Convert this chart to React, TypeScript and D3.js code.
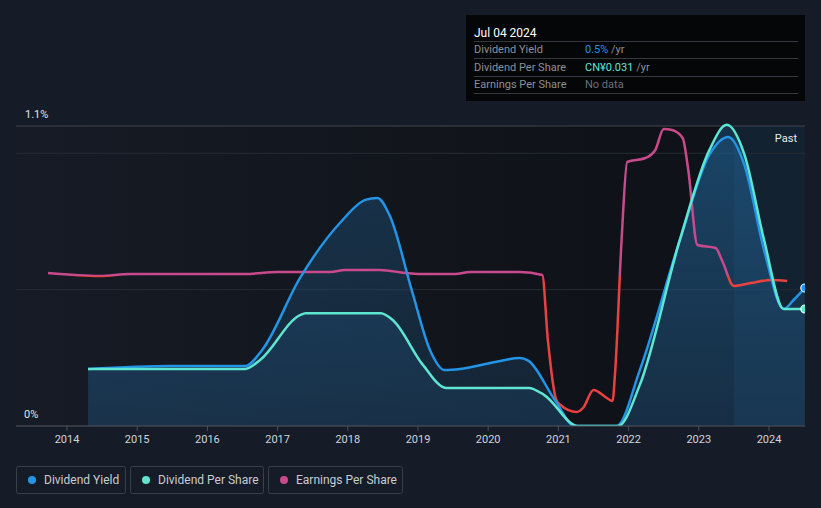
import React from "react";
import * as d3 from "d3";

const W = 821;
const H = 508;

const yieldYears = [2014.3, 2015.47, 2016.54, 2016.78, 2017.32, 2017.9, 2018.25, 2018.42, 2018.6, 2018.91, 2019.17, 2019.38, 2019.6, 2020.03, 2020.45, 2020.57, 2020.95, 2021.23, 2021.83, 2022.16, 2022.73, 2023.15, 2023.42, 2023.65, 2023.93, 2024.21, 2024.35, 2024.51];
const yieldValues = [0.209, 0.22, 0.22, 0.279, 0.543, 0.748, 0.829, 0.836, 0.77, 0.499, 0.279, 0.205, 0.209, 0.231, 0.249, 0.24, 0.095, 0, 0, 0.205, 0.682, 0.994, 1.06, 0.957, 0.645, 0.429, 0.462, 0.506];

const dpsYears = [2014.3, 2016.54, 2016.75, 2017.32, 2017.4, 2018.47, 2018.64, 2019.07, 2019.4, 2020.58, 2020.8, 2021.28, 2021.85, 2022.16, 2022.73, 2023.15, 2023.4, 2023.65, 2023.93, 2024.21, 2024.51];
const dpsValues = [0.0151, 0.0151, 0.0175, 0.0294, 0.0299, 0.0299, 0.0281, 0.0162, 0.0101, 0.0101, 0.0082, 0, 0, 0.0109, 0.0493, 0.0731, 0.0798, 0.0719, 0.0493, 0.031, 0.031];

const epsYears = [2013.73, 2014.47, 2014.9, 2016.0, 2016.54, 2017.0, 2017.75, 2017.96, 2018.46, 2018.82, 2019.0, 2019.53, 2019.74, 2020.45, 2020.77, 2020.85, 2020.97, 2021.03, 2021.26, 2021.35, 2021.5, 2021.69, 2021.77, 2021.81, 2021.9, 2021.98, 2022.24, 2022.38, 2022.5, 2022.62, 2022.77, 2022.85, 2022.98, 2023.24, 2023.34, 2023.5, 2023.74, 2024.03, 2024.26];
const epsValues = [0.015, 0.0, 0.01, 0.01, 0.01, 0.02, 0.02, 0.03, 0.03, 0.015, 0.01, 0.01, 0.02, 0.02, 0.005, -0.32, -0.62, -0.645, -0.68, -0.66, -0.57, -0.61, -0.625, -0.47, 0.18, 0.57, 0.59, 0.63, 0.735, 0.73, 0.69, 0.53, 0.155, 0.14, 0.07, -0.05, -0.035, -0.02, -0.025];

const yearTicks = [2014, 2015, 2016, 2017, 2018, 2019, 2020, 2021, 2022, 2023, 2024];
const pctTicks = [0, 0.5, 1.0, 1.1];
const legendItems = ["Dividend Yield", "Dividend Per Share", "Earnings Per Share"];
const legendColors = ["#2394e6", "#5ee6d2", "#c94a8c"];

const tooltipTitle = "Jul 04 2024";
const tooltipLabels = ["Dividend Yield", "Dividend Per Share", "Earnings Per Share"];
const tooltipValues = ["0.5%", "CN¥0.031", "No data"];
const tooltipSuffix = [" /yr", " /yr", ""];
const tooltipColors = ["#2394e6", "#5ee6d2", "#6b707a"];

const pastStart = 2023.5;

export default function App() {
  const left = 16, right = 805, top = 126, bottom = 426;
  const x = d3.scaleLinear().domain([2014, 2024]).range([67, 769]);
  const y = d3.scaleLinear().domain([0, 1.1]).range([bottom, top]);
  const yDps = d3.scaleLinear().domain([0, 0.0795]).range([bottom, top]);
  const yEps = d3.scaleLinear().domain([-0.75, 0.75]).range([426, 126]);
  const font = "Roboto, 'Noto Sans', sans-serif";

  const yieldData = yieldYears.map((t, i) => [t, yieldValues[i]] as [number, number]);
  const dpsData = dpsYears.map((t, i) => [t, dpsValues[i]] as [number, number]);
  const epsData = epsYears.map((t, i) => [t, epsValues[i]] as [number, number]);

  const yieldLine = d3.line<[number, number]>().x(d => x(d[0])).y(d => y(d[1])).curve(d3.curveMonotoneX);
  const yieldArea = d3.area<[number, number]>().x(d => x(d[0])).y0(bottom).y1(d => y(d[1])).curve(d3.curveMonotoneX);
  const dpsLine = d3.line<[number, number]>().x(d => x(d[0])).y(d => yDps(d[1])).curve(d3.curveMonotoneX);
  const dpsArea = d3.area<[number, number]>().x(d => x(d[0])).y0(bottom).y1(d => yDps(d[1])).curve(d3.curveMonotoneX);
  const epsLine = d3.line<[number, number]>().x(d => x(d[0])).y(d => yEps(d[1])).curve(d3.curveMonotoneX);

  const threshY = yEps(0);
  const lastY = yieldData[yieldData.length - 1];
  const lastD = dpsData[dpsData.length - 1];
  const legendX = [16, 130, 268];
  const legendW = [109, 133, 134];

  return (
    <div style={{ position: "fixed", left: 0, top: 0, width: W, height: H }}>
      <svg width={W} height={H} style={{ display: "block", fontFamily: font }}>
        <defs>
          <linearGradient id="bgGrad" x1="0" x2="1" y1="0" y2="0">
            <stop offset="0" stopColor="#161b25" />
            <stop offset="0.75" stopColor="#0f1218" />
            <stop offset="1" stopColor="#0f1218" />
          </linearGradient>
          <linearGradient id="fillGrad" x1="0" x2="0" y1="0" y2="1">
            <stop offset="0" stopColor="#1e5a88" stopOpacity="0.45" />
            <stop offset="1" stopColor="#1e4a70" stopOpacity="0.3" />
          </linearGradient>
          <linearGradient id="epsGrad" gradientUnits="userSpaceOnUse" x1="0" x2="0" y1={top} y2={bottom}>
            <stop offset={(threshY - top) / (bottom - top)} stopColor="#c94a8c" />
            <stop offset={(threshY - top) / (bottom - top)} stopColor="#e8413f" />
          </linearGradient>
          <clipPath id="plotClip">
            <rect x={left} y={0} width={right - left} height={bottom} />
          </clipPath>
        </defs>
        <rect x={0} y={0} width={W} height={H} fill="#161c27" />
        <rect x={left} y={top} width={right - left} height={bottom - top} fill="url(#bgGrad)" />
        <rect x={x(pastStart)} y={top} width={right - x(pastStart)} height={bottom - top} fill="#1f4a70" opacity={0.28} />

        {pctTicks.map(p => (
          <line key={p} x1={left} x2={right} y1={y(p)} y2={y(p)} stroke={p === 1.1 ? "#3e434d" : "#262b34"} strokeWidth={1} />
        ))}

        <g clipPath="url(#plotClip)">
          <path d={dpsArea(dpsData) || ""} fill="url(#fillGrad)" />
          <path d={yieldArea(yieldData) || ""} fill="url(#fillGrad)" />
          <path d={epsLine(epsData) || ""} fill="none" stroke="url(#epsGrad)" strokeWidth={2.5} />
          <path d={yieldLine(yieldData) || ""} fill="none" stroke="#2394e6" strokeWidth={2.5} />
          <path d={dpsLine(dpsData) || ""} fill="none" stroke="#5ee6d2" strokeWidth={2.5} />
          <circle cx={x(lastY[0])} cy={y(lastY[1])} r={4} fill="#2394e6" stroke="#e8f2ff" strokeWidth={1.2} />
          <circle cx={x(lastD[0])} cy={yDps(lastD[1])} r={4} fill="#5ee6d2" stroke="#e8fffb" strokeWidth={1.2} />
        </g>

        <line x1={left} x2={right} y1={bottom} y2={bottom} stroke="#4a4f5a" strokeWidth={1} />
        {yearTicks.map(t => (
          <g key={t}>
            <line x1={x(t)} x2={x(t)} y1={bottom} y2={bottom + 5} stroke="#4a4f5a" />
            <text x={x(t)} y={443} textAnchor="middle" fill="#d0d4da" fontSize={11}>{t}</text>
          </g>
        ))}
        <text x={25} y={118} fill="#e0e3e8" fontSize={11}>1.1%</text>
        <text x={24} y={418} fill="#e0e3e8" fontSize={11}>0%</text>
        <text x={797} y={142} textAnchor="end" fill="#e8ebef" fontSize={11}>Past</text>

        {legendItems.map((name, i) => (
          <g key={name}>
            <rect x={legendX[i] + 0.5} y={466.5} width={legendW[i]} height={27} rx={2} fill="none" stroke="#3a3f4a" />
            <circle cx={legendX[i] + 16} cy={480} r={4} fill={legendColors[i]} />
            <text x={legendX[i] + 28} y={484} fill="#c8ccd2" fontSize={12}>{name}</text>
          </g>
        ))}

        <rect x={466} y={15} width={339} height={86} fill="#050608" />
        <text x={474} y={37} fill="#ffffff" fontSize={12}>{tooltipTitle}</text>
        {[41, 58, 76, 93].map(yy => (
          <line key={yy} x1={474} x2={798} y1={yy + 0.5} y2={yy + 0.5} stroke="#34383f" />
        ))}
        {tooltipLabels.map((lab, i) => (
          <g key={lab}>
            <text x={474} y={53 + i * 17.5} fill="#8a8f98" fontSize={11}>{lab}</text>
            <text x={585} y={53 + i * 17.5} fontSize={11}>
              <tspan fill={tooltipColors[i]}>{tooltipValues[i]}</tspan>
              <tspan fill="#8a8f98">{tooltipSuffix[i]}</tspan>
            </text>
          </g>
        ))}
      </svg>
    </div>
  );
}
